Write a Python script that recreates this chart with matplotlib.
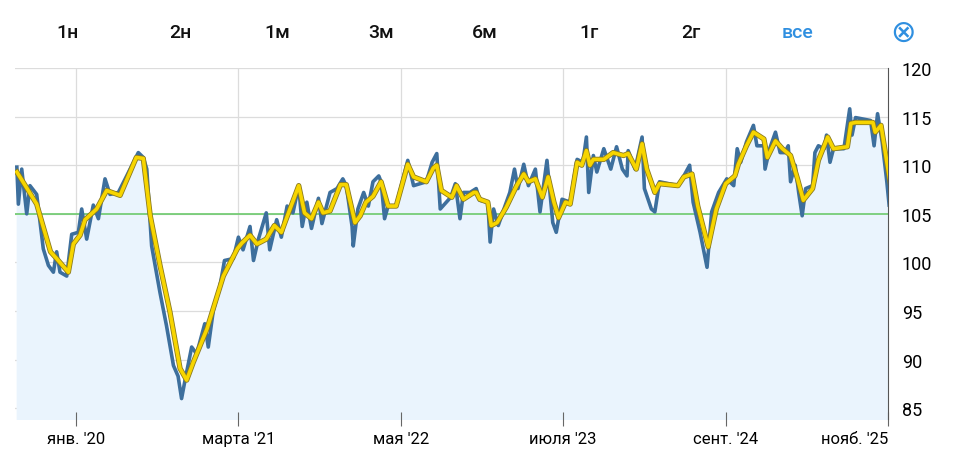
import matplotlib
matplotlib.use("Agg")
import matplotlib.pyplot as plt
import matplotlib.patheffects as pe

# months since Jan 2020
blue_m = [-5.1,-4.97,-4.68,-4.25,-3.97,-3.39,-2.82,-2.38,-1.95,-1.67,-1.38,-0.80,-0.37,0.2,0.49,0.92,1.49,1.93,2.5,2.93,3.65,4.37,5.37,5.8,6.1,6.52,7.24,7.8,8.4,8.8,9.1,9.4,9.97,10.4,11.1,11.4,11.84,12.4,12.8,13.56,14.0,14.4,15.0,15.3,15.7,16.4,16.7,17.3,17.7,18.2,18.7,19.2,19.5,19.9,20.3,20.9,21.2,21.9,22.5,23.0,23.3,23.8,23.9,24.3,24.8,25.2,25.6,26.1,26.3,26.6,26.9,27.6,28.6,29.1,30.2,30.7,31.1,31.4,32.3,32.7,33.1,33.4,33.97,34.5,34.8,35.5,35.7,36.0,36.4,36.98,37.4,37.8,38.1,38.6,39.0,39.6,40.0,40.6,41.1,41.4,41.9,42.6,43.2,43.7,44.0,44.2,44.6,44.9,45.5,46.1,46.6,47.1,47.5,47.6,48.2,48.8,49.0,49.6,49.9,50.3,51.9,52.4,52.9,53.2,53.8,54.4,54.8,55.4,56.1,56.7,57.0,57.3,57.8,58.4,58.7,59.3,59.4,59.8,60.3,60.7,61.1,61.4,61.6,62.0,62.3,62.6,62.9,63.5,63.7,64.0,64.5,64.7,65.0,65.3,66.2,66.7,66.9,67.2,68.5,68.8,69.1,69.5,69.9,70.1]
blue_v = [109.8,106.0,109.6,105.0,107.9,107.0,101.4,99.7,99.0,101.1,99.0,98.6,102.9,103.1,105.5,102.4,105.9,104.5,108.6,107.0,107.2,108.9,111.3,110.8,109.6,101.7,96.9,93.5,89.4,88.3,86.0,87.9,91.3,90.6,93.7,91.3,95.1,97.5,100.2,100.4,102.6,101.3,103.7,100.2,102.3,105.1,101.3,104.4,102.6,105.8,105.1,107.9,103.7,106.2,103.5,106.6,104.0,107.2,107.6,108.6,107.9,103.7,101.7,105.5,107.2,105.8,108.3,108.9,108.3,104.5,105.8,105.8,110.5,107.9,108.3,110.3,111.2,105.5,106.7,108.1,104.5,107.2,107.2,107.6,106.4,106.2,102.1,105.5,103.8,105.8,107.2,109.6,107.6,110.1,107.9,109.6,105.2,110.5,104.1,103.1,106.5,106.2,110.6,110.3,112.9,107.2,111.0,109.3,111.7,109.6,111.9,109.6,108.9,111.5,109.6,112.9,107.6,105.5,105.2,108.3,107.9,108.9,110.0,106.2,103.1,99.5,105.2,107.2,108.6,107.9,111.7,110.3,112.4,114.1,112.0,112.0,109.6,111.7,113.4,111.3,111.3,112.0,108.3,110.0,107.2,104.8,107.6,107.9,111.3,112.0,111.7,113.1,110.3,111.7,111.7,115.8,113.1,114.9,114.6,112.0,115.3,112.4,108.3,105.9]
yel_m = [-5.1,-4.68,-3.39,-2.2,-1.67,-0.66,-0.23,0.35,0.78,1.78,2.64,3.8,5.2,5.8,6.4,7.24,8.1,8.97,9.54,10.1,11.3,12.1,12.7,13.9,14.3,15.0,15.6,16.4,17.1,17.7,18.1,19.2,19.7,20.3,20.9,21.3,21.9,22.8,23.3,24.05,24.5,25.0,25.6,26.3,26.9,27.6,28.6,29.1,30.2,30.8,31.1,31.5,32.4,32.8,33.4,34.3,34.5,34.8,35.5,35.8,36.3,37.1,37.99,38.6,39.0,39.6,40.2,40.7,41.2,41.6,42.2,42.6,43.2,43.6,44.0,44.3,44.6,45.0,45.5,46.3,47.2,47.6,48.3,48.8,49.2,49.9,50.3,51.9,52.4,53.1,53.6,54.5,55.2,56.0,56.8,57.1,57.8,58.4,59.3,59.6,60.3,60.9,61.6,62.2,62.7,63.5,64.0,64.8,65.3,66.5,66.8,67.2,68.7,68.9,69.4,70.2]
yel_v = [109.3,108.5,106.0,101.1,100.4,99.0,101.9,102.8,104.4,105.5,107.4,106.9,110.8,110.7,104.8,99.7,94.9,89.1,87.9,89.7,93.2,96.3,98.6,101.4,102.0,102.8,101.9,102.4,103.8,103.1,104.4,107.9,105.1,104.5,106.2,105.1,105.3,108.0,108.0,104.1,104.8,106.2,106.8,108.3,105.8,105.8,110.1,108.8,108.3,109.7,110.0,107.4,106.7,107.9,106.5,107.2,107.2,106.5,106.2,103.8,104.1,105.7,107.9,109.1,108.3,108.6,106.7,108.8,106.2,104.6,106.2,106.0,110.3,110.0,111.5,110.0,110.6,110.6,110.6,111.3,111.0,111.2,109.6,112.2,109.6,107.2,108.1,107.9,108.8,109.1,105.8,101.6,105.5,108.1,108.9,110.1,112.0,113.4,112.7,110.8,112.5,111.7,111.0,108.6,106.4,107.6,110.5,112.9,111.7,111.9,114.3,114.4,114.4,113.4,114.1,108.1]
x_ticks = [0, 14, 28, 42, 56, 70]
x_labels = ["янв. '20", "марта '21", "мая '22", "июля '23", "сент. '24", "нояб. '25"]
y_ticks = [85, 90, 95, 100, 105, 110, 115, 120]
ref_level = 105
buttons = ["1н", "2н", "1м", "3м", "6м", "1г", "2г", "все"]

fig = plt.figure(figsize=(9.63, 4.6), dpi=100)
ax = fig.add_axes([15/963, 40/460, 873/963, 351/460])
ax.set_xlim(-5.26, 70.0)
ax.set_ylim(83.9, 120)
ax.fill_between(blue_m, blue_v, 83.9, color="#eaf4fd", zorder=1)
ax.axhline(ref_level, color="#6cc96c", lw=1.2, zorder=2)
ax.plot(blue_m, blue_v, color="#3d6f9d", lw=2.6, zorder=3, solid_joinstyle="round")
ax.plot(yel_m, yel_v, color="#f7d500", lw=2.6, zorder=4,
        path_effects=[pe.Stroke(linewidth=3.8, foreground="#8a7a20"), pe.Normal()])
for t in y_ticks:
    ax.axhline(t, color="#dcdcdc", lw=0.9, zorder=0.5)
for t in x_ticks[:-1]:
    ax.axvline(t, color="#dcdcdc", lw=0.9, zorder=0.5)
for s in ["top", "left", "bottom"]:
    ax.spines[s].set_visible(False)
ax.spines["right"].set_color("#555555")
ax.yaxis.tick_right()
ax.set_yticks(y_ticks)
ax.set_yticklabels([str(t) for t in y_ticks], fontsize=13, family="Roboto")
ax.tick_params(axis="y", length=0, pad=10)
ax.set_xticks(x_ticks)
ax.set_xticklabels(x_labels, fontsize=12, family="Roboto")
ax.tick_params(axis="x", length=10, color="#666666", pad=4, direction="inout")
lab = ax.get_xticklabels()
lab[-1].set_horizontalalignment("right")
lab[-1].set_x(70)

bx = [67, 180, 277, 381, 485, 589, 691, 797]
for x, b in zip(bx, buttons):
    fig.text(x/963, 1-33/460, b, ha="center", va="center", fontsize=14, family="Roboto",
             fontweight="medium", color="#2f8fe0" if b == "все" else "#111111")
fig.text(903/963, 1-33/460, "⊗", ha="center", va="center", fontsize=22, color="#2f8fe0", family="DejaVu Sans")
fig.savefig("out.png", dpi=100)
